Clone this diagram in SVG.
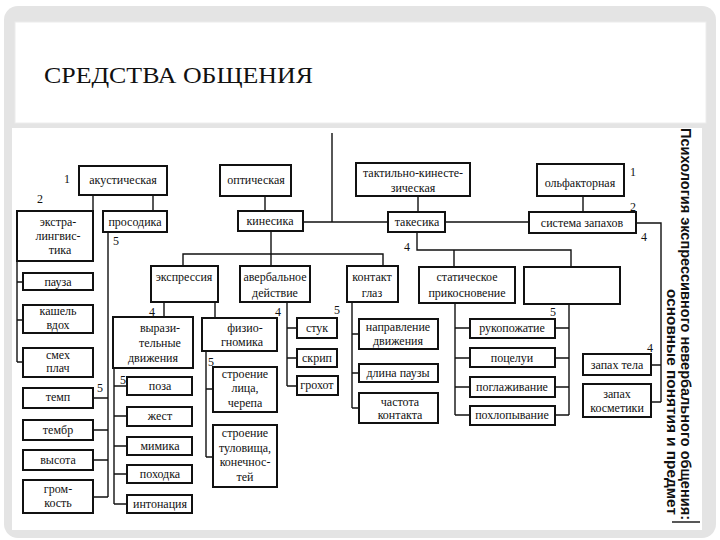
<svg xmlns="http://www.w3.org/2000/svg" width="720" height="540" viewBox="0 0 720 540">
<style>
.b{fill:#fff;stroke:#111;stroke-width:2}
.l{fill:none;stroke:#111;stroke-width:1.4}
.t{font-family:'Liberation Serif','DejaVu Serif',serif;font-size:12px;fill:#111;text-anchor:middle}
.n{font-family:'Liberation Serif','DejaVu Serif',serif;font-size:12px;fill:#111;text-anchor:middle}
.v{font-family:'Liberation Sans','DejaVu Sans',sans-serif;font-size:14px;font-weight:bold;fill:#111;text-anchor:end}
.ttl{font-family:'Liberation Serif','DejaVu Serif',serif;font-size:24px;fill:#111}
</style>
<rect x="0" y="0" width="720" height="540" fill="#fff"/>
<rect x="4" y="6" width="712" height="532" rx="14" fill="#e4e4e4"/>
<rect x="15" y="22" width="691" height="101" fill="#fff" stroke="#ececec"/>
<rect x="12" y="128" width="690" height="402" fill="#fff"/>
<text class="ttl" x="44" y="83" textLength="269" lengthAdjust="spacingAndGlyphs">СРЕДСТВА ОБЩЕНИЯ</text>

<g id="connectors">
<path class="l" d="M332,133 V222 M303,222 H388 M445,222 H529"/>
<path class="l" d="M93,195 V211 M153,195 V211 M265,196 V211 M418,196 V212 M583,196 V212"/>
<path class="l" d="M636,223 H661 V402 M651,365 H661 M651,402 H661"/>
<path class="l" d="M17,261 V362 M17,282 H23 M17,320 H23 M17,362 H23"/>
<path class="l" d="M108,232 V497 M93,398 H108 M93,430 H108 M93,460 H108 M93,497 H108"/>
<path class="l" d="M183,266 V254 H383 V266 M271,231 V266"/>
<path class="l" d="M164,302 V317 M215,302 V318"/>
<path class="l" d="M114,368 V504 M114,386 H127 M114,416 H127 M114,446 H127 M114,474 H127 M114,504 H127"/>
<path class="l" d="M206,351 V457 M206,389 H213 M206,457 H213"/>
<path class="l" d="M287,302 V386 M287,328 H297 M287,358 H297 M287,386 H297"/>
<path class="l" d="M352,302 V408 M352,334 H359 M352,373 H359 M352,408 H359"/>
<path class="l" d="M417,232 V250 H571 V267 M454,250 V267"/>
<path class="l" d="M455,303 V415 M455,328 H470 M455,358 H470 M455,387 H470 M455,415 H470"/>
<path class="l" d="M569,304 V415 M555,328 H569 M555,358 H569 M555,387 H569 M555,415 H569"/>
<path class="l" d="M672,522 H700"/>
</g>

<g id="labels">
<text class="n" x="67" y="183">1</text>
<text class="n" x="40" y="203">2</text>
<text class="n" x="116" y="245">5</text>
<text class="n" x="407" y="251">4</text>
<text class="n" x="633" y="176">1</text>
<text class="n" x="633" y="211">2</text>
<text class="n" x="644" y="241">4</text>
<text class="n" x="152" y="316">4</text>
<text class="n" x="123" y="384">5</text>
<text class="n" x="100" y="392">5</text>
<text class="n" x="278" y="316">4</text>
<text class="n" x="337" y="314">5</text>
<text class="n" x="211" y="366">5</text>
<text class="n" x="553" y="316">5</text>
<text class="n" x="650" y="352">4</text>
</g>

<g id="n-akust"><rect class="b" x="79" y="166" width="88" height="29"/><text class="t" x="123" y="184">акустическая</text></g>
<g id="n-opt"><rect class="b" x="220" y="165" width="71" height="31"/><text class="t" x="256" y="184">оптическая</text></g>
<g id="n-takt"><rect class="b" x="356" y="163" width="114" height="33"/><text class="t" x="413" y="177">тактильно-кинесте-</text><text class="t" x="413" y="192">зическая</text></g>
<g id="n-olf"><rect class="b" x="537" y="164" width="87" height="32"/><text class="t" x="580" y="187">ольфакторная</text></g>

<g id="n-ekstra"><rect class="b" x="17" y="211" width="76" height="50"/><text class="t" x="58" y="226">экстра-</text><text class="t" x="58" y="240">лингвис-</text><text class="t" x="60" y="254">тика</text></g>
<g id="n-prosod"><rect class="b" x="103" y="211" width="64" height="21"/><text class="t" x="135" y="226">просодика</text></g>
<g id="n-kines"><rect class="b" x="238" y="211" width="65" height="20"/><text class="t" x="270" y="225">кинесика</text></g>
<g id="n-takes"><rect class="b" x="388" y="212" width="57" height="20"/><text class="t" x="417" y="226">такесика</text></g>
<g id="n-sist"><rect class="b" x="529" y="212" width="107" height="21"/><text class="t" x="582" y="227">система запахов</text></g>

<g id="n-ekspr"><rect class="b" x="151" y="266" width="67" height="36"/><text class="t" x="184" y="281">экспрессия</text></g>
<g id="n-averb"><rect class="b" x="240" y="266" width="70" height="36"/><text class="t" x="275" y="281">авербальное</text><text class="t" x="275" y="297">действие</text></g>
<g id="n-kontakt"><rect class="b" x="347" y="266" width="51" height="36"/><text class="t" x="372" y="281">контакт</text><text class="t" x="372" y="297">глаз</text></g>
<g id="n-stat"><rect class="b" x="419" y="267" width="96" height="36"/><text class="t" x="467" y="281">статическое</text><text class="t" x="467" y="297">прикосновение</text></g>
<g id="n-empty"><rect class="b" x="524" y="267" width="96" height="37"/></g>

<g id="n-pauza"><rect class="b" x="23" y="273" width="70" height="17"/><text class="t" x="58" y="286">пауза</text></g>
<g id="n-kashel"><rect class="b" x="23" y="305" width="70" height="28"/><text class="t" x="58" y="315">кашель</text><text class="t" x="58" y="329">вдох</text></g>
<g id="n-smeh"><rect class="b" x="23" y="348" width="70" height="29"/><text class="t" x="58" y="359">смех</text><text class="t" x="58" y="372">плач</text></g>
<g id="n-temp"><rect class="b" x="23" y="388" width="70" height="20"/><text class="t" x="58" y="401">темп</text></g>
<g id="n-tembr"><rect class="b" x="23" y="420" width="70" height="20"/><text class="t" x="58" y="434">тембр</text></g>
<g id="n-vysota"><rect class="b" x="23" y="450" width="70" height="20"/><text class="t" x="58" y="464">высота</text></g>
<g id="n-grom"><rect class="b" x="23" y="480" width="70" height="33"/><text class="t" x="58" y="493">гром-</text><text class="t" x="58" y="507">кость</text></g>

<g id="n-vyraz"><rect class="b" x="113" y="317" width="80" height="51"/><text class="t" x="160" y="332">вырази-</text><text class="t" x="160" y="347">тельные</text><text class="t" x="153" y="362">движения</text></g>
<g id="n-poza"><rect class="b" x="127" y="377" width="65" height="18"/><text class="t" x="160" y="390">поза</text></g>
<g id="n-zhest"><rect class="b" x="127" y="407" width="65" height="19"/><text class="t" x="160" y="420">жест</text></g>
<g id="n-mimika"><rect class="b" x="127" y="437" width="65" height="18"/><text class="t" x="160" y="450">мимика</text></g>
<g id="n-pohodka"><rect class="b" x="127" y="465" width="65" height="18"/><text class="t" x="160" y="478">походка</text></g>
<g id="n-inton"><rect class="b" x="127" y="495" width="65" height="18"/><text class="t" x="160" y="508">интонация</text></g>

<g id="n-fizio"><rect class="b" x="202" y="318" width="75" height="33"/><text class="t" x="245" y="332">физио-</text><text class="t" x="242" y="346">гномика</text></g>
<g id="n-litsa"><rect class="b" x="213" y="367" width="64" height="45"/><text class="t" x="245" y="378">строение</text><text class="t" x="245" y="392">лица,</text><text class="t" x="245" y="407">черепа</text></g>
<g id="n-tulov"><rect class="b" x="213" y="425" width="64" height="62"/><text class="t" x="245" y="437">строение</text><text class="t" x="245" y="452">туловища,</text><text class="t" x="245" y="466">конечнос-</text><text class="t" x="245" y="481">тей</text></g>

<g id="n-stuk"><rect class="b" x="297" y="318" width="40" height="20"/><text class="t" x="317" y="332">стук</text></g>
<g id="n-skrip"><rect class="b" x="297" y="349" width="40" height="18"/><text class="t" x="317" y="362">скрип</text></g>
<g id="n-grohot"><rect class="b" x="297" y="376" width="41" height="19"/><text class="t" x="317" y="389">грохот</text></g>

<g id="n-napr"><rect class="b" x="359" y="319" width="79" height="30"/><text class="t" x="398" y="331">направление</text><text class="t" x="398" y="345">движения</text></g>
<g id="n-dlina"><rect class="b" x="359" y="364" width="79" height="18"/><text class="t" x="398" y="377">длина паузы</text></g>
<g id="n-chast"><rect class="b" x="359" y="393" width="79" height="30"/><text class="t" x="400" y="406">частота</text><text class="t" x="400" y="419">контакта</text></g>

<g id="n-ruko"><rect class="b" x="470" y="319" width="85" height="19"/><text class="t" x="512" y="332">рукопожатие</text></g>
<g id="n-poce"><rect class="b" x="470" y="348" width="85" height="19"/><text class="t" x="512" y="362">поцелуи</text></g>
<g id="n-pogl"><rect class="b" x="470" y="377" width="85" height="20"/><text class="t" x="512" y="391">поглаживание</text></g>
<g id="n-pohl"><rect class="b" x="470" y="406" width="85" height="19"/><text class="t" x="512" y="419">похлопывание</text></g>

<g id="n-zaptela"><rect class="b" x="583" y="354" width="68" height="21"/><text class="t" x="617" y="369">запах тела</text></g>
<g id="n-zapkosm"><rect class="b" x="583" y="384" width="68" height="33"/><text class="t" x="617" y="398">запах</text><text class="t" x="617" y="412">косметики</text></g>

<g id="sidebar">
<text class="v" transform="translate(681,520) rotate(90)" textLength="392" lengthAdjust="spacingAndGlyphs">Психология экспрессивного невербального общения:</text>
<text class="v" transform="translate(667,515) rotate(90)" textLength="226" lengthAdjust="spacingAndGlyphs">основные понятия и предмет</text>
</g>
</svg>
